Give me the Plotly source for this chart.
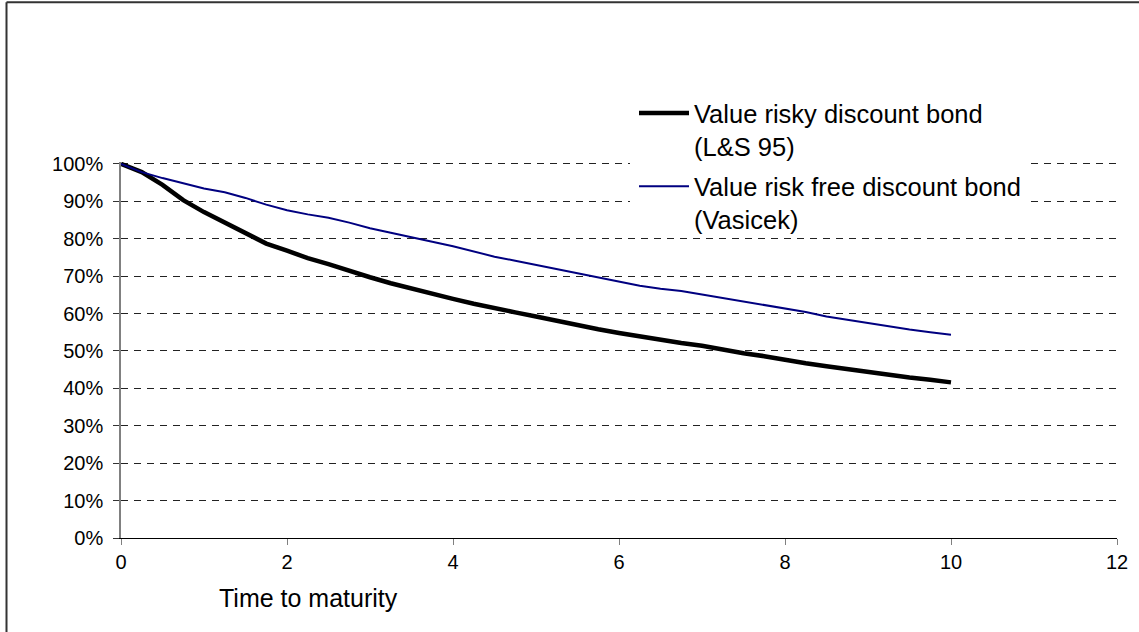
import plotly.graph_objects as go

# ---- data ----
maturity = [i * 0.25 for i in range(41)]
risky_bond = [1.000, 0.978, 0.944, 0.903, 0.871, 0.843, 0.815, 0.787, 0.768, 0.748,
              0.732, 0.713, 0.697, 0.681, 0.666, 0.651, 0.639, 0.626, 0.613, 0.603,
              0.592, 0.580, 0.569, 0.558, 0.548, 0.538, 0.529, 0.521, 0.514, 0.503,
              0.494, 0.486, 0.475, 0.467, 0.459, 0.451, 0.443, 0.436, 0.429, 0.423, 0.416]
riskfree_bond = [1.000, 0.978, 0.962, 0.948, 0.934, 0.924, 0.909, 0.891, 0.876, 0.865,
                 0.856, 0.843, 0.828, 0.816, 0.805, 0.792, 0.780, 0.766, 0.752, 0.741,
                 0.730, 0.718, 0.707, 0.695, 0.684, 0.674, 0.666, 0.660, 0.651, 0.642,
                 0.633, 0.624, 0.614, 0.604, 0.592, 0.583, 0.574, 0.565, 0.557, 0.550, 0.543]
series_names = ["Value risky discount bond<br>(L&S 95)",
                "Value risk free discount bond<br>(Vasicek)"]
x_title = "Time to maturity"

FONT = "Liberation Sans, Arial, sans-serif"

fig = go.Figure()
fig.add_trace(go.Scatter(x=maturity, y=risky_bond, mode="lines", name=series_names[0],
                         legendgroup="a",
                         line=dict(color="#000000", width=4.5)))
fig.add_trace(go.Scatter(x=maturity, y=riskfree_bond, mode="lines", name=series_names[1],
                         legendgroup="b",
                         line=dict(color="#000080", width=2)))

W, H = 1139, 632
Y_TOP = 1.005                      # a little headroom so the 100% gridline is drawn
PX_PER_UNIT = 538 - 164            # pixels per 100% on the value axis
X0, X1 = 121, 1117
Y1 = 538
Y0 = 164 - (Y_TOP - 1) * PX_PER_UNIT
L, R, T, B = X0, W - X1, Y0, H - Y1
pw, ph = W - L - R, H - T - B

def px(xp):
    return (xp - L) / pw

def py(yp):
    return (H - B - yp) / ph

fig.update_layout(
    width=W, height=H,
    margin=dict(l=L, r=R, t=T, b=B, autoexpand=False),
    paper_bgcolor="white", plot_bgcolor="white",
    font=dict(family=FONT, color="#000000", size=20),
    showlegend=True,
    legend=dict(x=px(634), y=py(90), xanchor="left", yanchor="top",
                bgcolor="rgba(0,0,0,0)", borderwidth=0, valign="top",
                font=dict(size=25.5, family=FONT), itemwidth=50,
                traceorder="grouped", tracegroupgap=4),
    xaxis=dict(range=[0, 12], dtick=2, tick0=0, showgrid=False, zeroline=False,
               showline=True, linecolor="#000000", linewidth=1,
               ticks="outside", ticklen=6, tickcolor="#808080",
               tickfont=dict(size=20, family=FONT)),
    yaxis=dict(range=[0, Y_TOP], tickvals=[i / 10 for i in range(11)],
               tickformat=".0%",
               showgrid=True, gridcolor="#222222", gridwidth=1, griddash="7px,6px",
               zeroline=False, showline=True, linecolor="#808080", linewidth=1.5,
               ticks="outside", ticklen=6, tickcolor="#333333",
               ticklabelstandoff=6,
               tickfont=dict(size=20, family=FONT)),
    annotations=[dict(text=x_title, xref="paper", yref="paper",
                      x=px(308), y=py(598), xanchor="center", yanchor="middle",
                      showarrow=False, font=dict(size=25, family=FONT))],
    shapes=[
        # white legend box masking the gridlines behind it
        dict(type="rect", xref="paper", yref="paper", layer="above",
             x0=px(630), x1=px(1028), y0=py(60), y1=py(228),
             fillcolor="white", line=dict(width=0)),
        # outer frame (left and top edges)
        dict(type="line", xref="paper", yref="paper", x0=px(6.5), x1=px(6.5),
             y0=py(2.5), y1=py(640), line=dict(color="#333333", width=2)),
        dict(type="line", xref="paper", yref="paper", x0=px(6.5), x1=px(1145),
             y0=py(2.5), y1=py(2.5), line=dict(color="#333333", width=2)),
    ],
)

fig.write_html(
    "out.html",
    config={"displayModeBar": False},
    post_script="document.body.style.margin='0';document.body.style.overflow='hidden';",
)
